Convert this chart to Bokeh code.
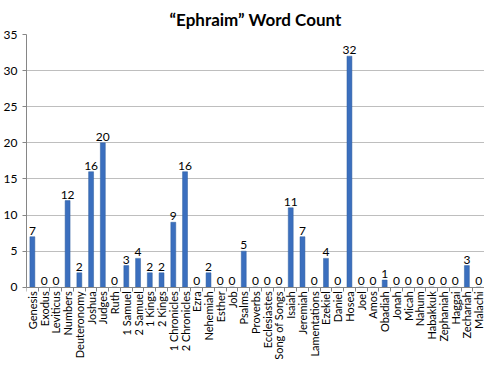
import math
from bokeh.plotting import figure
from bokeh.models import ColumnDataSource, FixedTicker, Range1d
from bokeh.core.properties import value
from bokeh.embed import file_html
from bokeh.resources import INLINE

books = ["Genesis", "Exodus", "Leviticus", "Numbers", "Deuteronomy", "Joshua", "Judges",
         "Ruth", "1 Samuel", "2 Samuel", "1 Kings", "2 Kings", "1 Chronicles", "2 Chronicles",
         "Ezra", "Nehemiah", "Esther", "Job", "Psalms", "Proverbs", "Ecclesiastes",
         "Song of Songs", "Isaiah", "Jeremiah", "Lamentations", "Ezekiel", "Daniel", "Hosea",
         "Joel", "Amos", "Obadiah", "Jonah", "Micah", "Nahum", "Habakkuk", "Zephaniah",
         "Haggai", "Zechariah", "Malachi"]
counts = [7, 0, 0, 12, 2, 16, 20, 0, 3, 4, 2, 2, 9, 16, 0, 2, 0, 0, 5, 0, 0, 0, 11, 7, 0,
          4, 0, 32, 0, 0, 1, 0, 0, 0, 0, 0, 0, 3, 0]
y_ticks = [0, 5, 10, 15, 20, 25, 30, 35]

xs = list(range(len(books)))
src = ColumnDataSource(dict(x=xs, y=counts, lbl=[str(c) for c in counts],
                            name=books, base=[0] * len(books)))

FONT = "Lato"
# the frame extends below zero to hold the rotated category names
p = figure(width=484, height=359, output_backend="svg", toolbar_location=None,
           x_range=Range1d(-0.5, len(books) - 0.5), y_range=Range1d(-10.0, 35),
           x_axis_location="above",
           title="\u201cEphraim\u201d Word Count",
           min_border_left=20, min_border_right=0, min_border_top=34, min_border_bottom=0)

p.title.align = "center"
p.title.text_font = FONT
p.title.text_font_size = "17px"
p.title.text_font_style = "bold"
p.title.text_color = "#000000"
p.title.standoff = 10
p.outline_line_color = None

p.vbar(x="x", top="y", width=0.42, source=src, fill_color="#3B6FBE", line_color="#2F5F9F",
       line_width=0.5)
p.text(x="x", y="y", text="lbl", source=src, text_align="center", text_baseline="bottom",
       y_offset=-2, text_font=value(FONT), text_font_size="12px", text_color="#000000")
p.text(x="x", y="base", text="name", source=src, angle=math.pi / 2,
       text_align="right", text_baseline="middle", y_offset=4,
       text_font=value(FONT), text_font_size="11px", text_color="#000000")

xt = FixedTicker(ticks=xs, minor_ticks=[i - 0.5 for i in range(len(books) + 1)])
p.xaxis.fixed_location = 0
p.xaxis.ticker = xt
p.xaxis.major_label_overrides = {i: "" for i in xs}
p.xaxis.major_label_text_font_size = "0px"
p.xaxis.major_label_standoff = 0
p.xaxis.major_tick_line_color = None
p.xaxis.major_tick_in = 0
p.xaxis.major_tick_out = 0
p.xaxis.minor_tick_line_color = "#868686"
p.xaxis.minor_tick_out = 0
p.xaxis.minor_tick_in = 4
p.xaxis.axis_line_color = "#868686"

p.yaxis.bounds = (0, 35)
p.yaxis.ticker = FixedTicker(ticks=y_ticks, minor_ticks=[])
p.yaxis.axis_line_color = "#868686"
p.yaxis.major_tick_line_color = "#868686"
p.yaxis.major_tick_out = 4
p.yaxis.major_tick_in = 0
p.yaxis.minor_tick_line_color = None
p.yaxis.major_label_text_font = FONT
p.yaxis.major_label_text_font_size = "12px"
p.yaxis.major_label_text_color = "#000000"

p.xgrid.grid_line_color = None
p.ygrid.ticker = FixedTicker(ticks=y_ticks)
p.ygrid.grid_line_color = "#BEBEBE"
p.ygrid.grid_line_width = 1.2

open("out.html", "w").write(file_html(p, INLINE))
